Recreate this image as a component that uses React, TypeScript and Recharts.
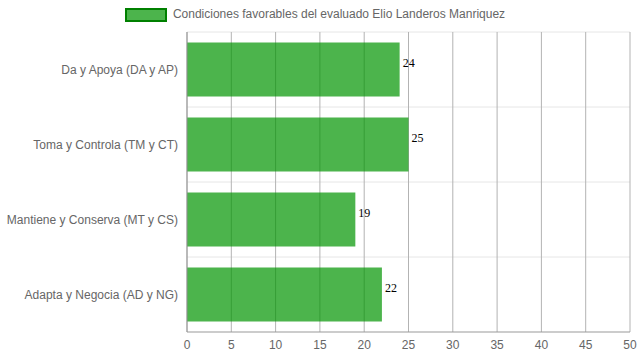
import {
  BarChart,
  Bar,
  XAxis,
  YAxis,
  CartesianGrid,
  Legend,
  LabelList,
} from 'recharts';

const categories = [
  'Da y Apoya (DA y AP)',
  'Toma y Controla (TM y CT)',
  'Mantiene y Conserva (MT y CS)',
  'Adapta y Negocia (AD y NG)',
];
const values = [24, 25, 19, 22];
const xTicks = [0, 5, 10, 15, 20, 25, 30, 35, 40, 45, 50];
const seriesName = 'Condiciones favorables del evaluado Elio Landeros Manriquez';

const data = categories.map((name, i) => ({ name, value: values[i] }));

const FONT = '"Liberation Sans", Arial, Helvetica, sans-serif';

const LegendContent = () => (
  <div
    style={{
      height: 32,
      display: 'flex',
      justifyContent: 'center',
      alignItems: 'flex-start',
      paddingTop: 7,
      boxSizing: 'border-box',
      fontFamily: FONT,
      fontSize: 12,
      color: '#666',
    }}
  >
    <span
      style={{
        display: 'inline-block',
        width: 38,
        height: 10,
        background: 'rgba(0,148,0,0.7)',
        border: '2px solid #008000',
        marginRight: 6,
        marginTop: 1,
      }}
    />
    <span style={{ lineHeight: '14px' }}>{seriesName}</span>
  </div>
);

// single-line category labels, right aligned against the axis
const CategoryTick = ({ x, y, payload }: any) => (
  <text
    x={x - 1}
    y={y}
    dy="0.35em"
    textAnchor="end"
    fill="#666"
    fontSize={12}
    fontFamily={FONT}
  >
    {payload.value}
  </text>
);

const ValueLabel = ({ x, y, width, height, value }: any) => (
  <text
    x={x + width + 3}
    y={y + height / 2 - 7}
    dy="0.35em"
    fill="#000"
    fontSize={12}
    fontFamily='"Liberation Serif", "Times New Roman", serif'
  >
    {value}
  </text>
);

export default function App() {
  return (
    <div style={{ position: 'absolute', left: 0, top: 0, background: '#fff' }}>
      <BarChart
        width={639}
        height={360}
        data={data}
        layout="vertical"
        margin={{ top: 0, right: 9, bottom: 0, left: 0 }}
        barCategoryGap="14%"
      >
        <CartesianGrid
          stroke="#e6e6e6"
          vertical={false}
          horizontalCoordinatesGenerator={({ offset }: any) => {
            const step = offset.height / categories.length;
            return categories.map((_, i) => offset.top + i * step);
          }}
        />
        <CartesianGrid stroke="#b3b3b3" horizontal={false} />
        <Legend verticalAlign="top" height={32} content={<LegendContent />} />
        <XAxis
          type="number"
          domain={[0, 50]}
          ticks={xTicks}
          interval={0}
          height={28}
          axisLine={{ stroke: '#999' }}
          tickLine={false}
          tick={{ fill: '#666', fontSize: 12, fontFamily: FONT }}
        />
        <YAxis
          type="category"
          dataKey="name"
          width={187}
          axisLine={{ stroke: '#999' }}
          tickLine={false}
          tick={<CategoryTick />}
        />
        <Bar
          dataKey="value"
          name={seriesName}
          fill="rgb(0,148,0)"
          fillOpacity={0.7}
          isAnimationActive={false}
        >
          <LabelList dataKey="value" content={<ValueLabel />} />
        </Bar>
      </BarChart>
    </div>
  );
}
